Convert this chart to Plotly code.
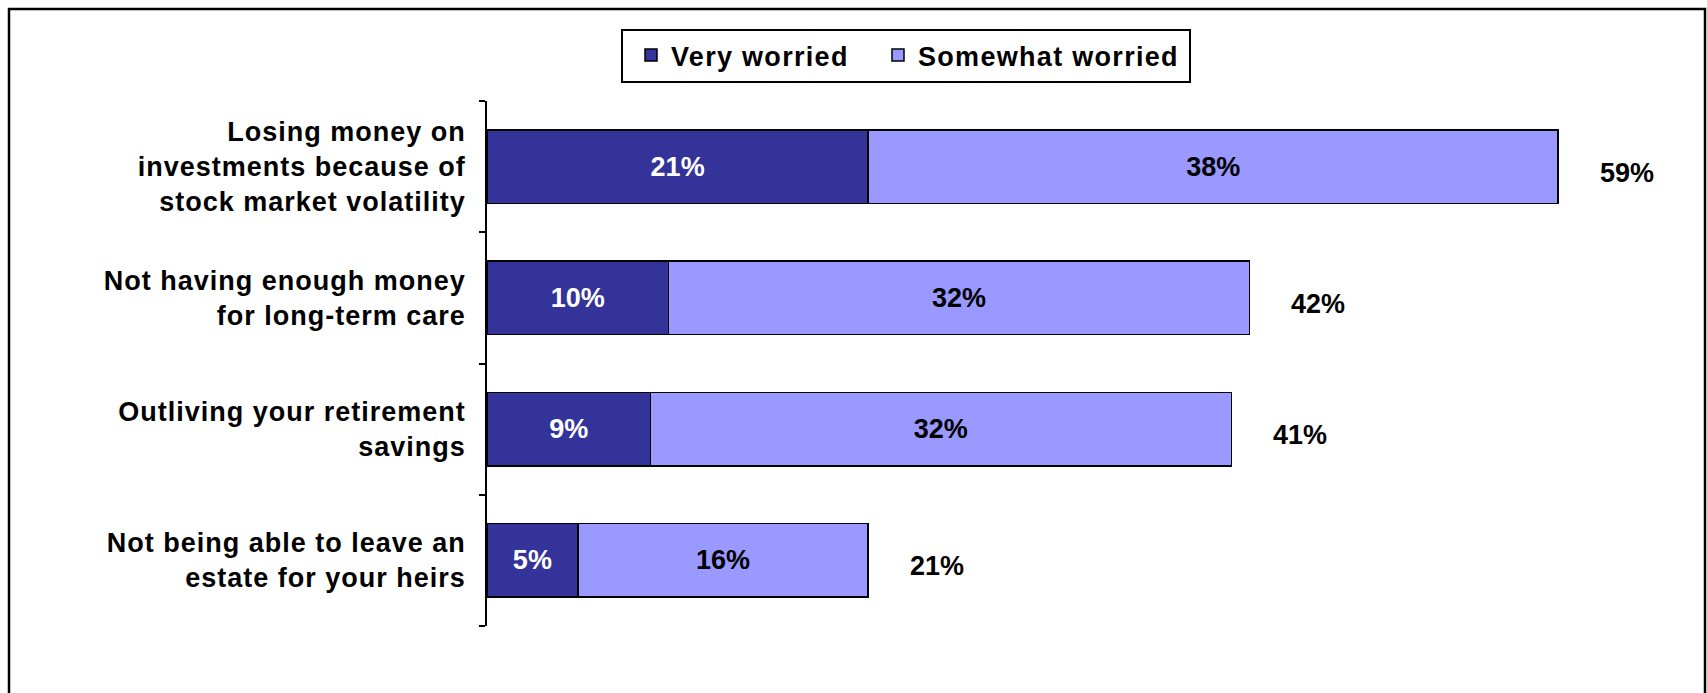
import plotly.graph_objects as go

# Survey results: share of respondents worried about each retirement risk
categories = [
    "Losing money on<br>investments because of<br>stock market volatility",
    "Not having enough money<br>for long-term care",
    "Outliving your retirement<br>savings",
    "Not being able to leave an<br>estate for your heirs",
]
series_names = ["Very worried", "Somewhat worried"]
very_worried = [21, 10, 9, 5]
somewhat_worried = [38, 32, 32, 16]
totals = [59, 42, 41, 21]

DARK = "#333399"
LIGHT = "#9999FF"
FONT = "Liberation Sans, Arial, sans-serif"
FS = 27

W, H = 1707, 693
ML, MR, MT, MB = 487, 40, 101, 67
X_MAX = 65
plot_w = W - ML - MR
plot_h = H - MT - MB


def px_to_paper_x(px):
    return (px - ML) / plot_w


def px_to_paper_y(py):
    return (H - MB - py) / plot_h


def spaced(text, px):
    """Apply extra letter spacing to every line of a label."""
    lines = text.split("<br>")
    return "<br>".join(
        f'<span style="letter-spacing:{px}px">{ln}</span>' for ln in lines
    )


fig = go.Figure()
for name, vals, fill, txt_color, legend_id in [
    (series_names[0], very_worried, DARK, "white", "legend"),
    (series_names[1], somewhat_worried, LIGHT, "black", "legend2"),
]:
    fig.add_trace(go.Bar(
        name=spaced(name, 1.3),
        y=categories, x=vals, orientation="h",
        marker=dict(color=fill, line=dict(color="black", width=1.5)),
        text=[f"{v}%" for v in vals],
        textposition="inside", insidetextanchor="middle", constraintext="none",
        textfont=dict(color=txt_color, size=FS, family=FONT, weight="bold"),
        hoverinfo="skip", legend=legend_id,
    ))

# Net totals to the right of each stacked bar
for cat, tot in zip(categories, totals):
    fig.add_annotation(
        x=tot, y=cat, text=f"{tot}%", showarrow=False,
        xanchor="left", xshift=40, yshift=-6,
        font=dict(color="black", size=FS, family=FONT, weight="bold"),
    )

# Outer frame around the chart
fig.add_shape(
    type="rect", xref="paper", yref="paper",
    x0=px_to_paper_x(9), x1=px_to_paper_x(1705),
    y0=px_to_paper_y(720), y1=px_to_paper_y(9),
    line=dict(color="black", width=2.5), fillcolor="rgba(0,0,0,0)",
    layer="below",
)
# Box around the legend entries
fig.add_shape(
    type="rect", xref="paper", yref="paper",
    x0=px_to_paper_x(622), x1=px_to_paper_x(1190),
    y0=px_to_paper_y(82), y1=px_to_paper_y(30),
    line=dict(color="black", width=2), fillcolor="white",
    layer="below",
)

legend_style = dict(
    orientation="h", xref="container", yref="container",
    y=1 - 31 / H, xanchor="left", yanchor="top",
    borderwidth=0, bgcolor="rgba(0,0,0,0)",
    font=dict(family=FONT, size=FS, color="black", weight="bold"),
)

fig.update_layout(
    width=W, height=H,
    margin=dict(l=ML, r=MR, t=MT, b=MB, autoexpand=False),
    barmode="stack", bargap=0.44,
    paper_bgcolor="white", plot_bgcolor="white",
    font=dict(family=FONT, size=FS, color="black", weight="bold"),
    showlegend=True,
    legend=dict(x=631 / W, **legend_style),
    legend2=dict(x=878 / W, **legend_style),
    xaxis=dict(range=[0, X_MAX], visible=False, fixedrange=True),
    yaxis=dict(
        autorange="reversed", showline=True, linecolor="black", linewidth=1.5,
        ticks="outside", tickson="boundaries", ticklen=6, tickcolor="black",
        tickwidth=1.5, showgrid=False, ticklabelstandoff=14,
        tickfont=dict(family=FONT, size=FS, color="black", weight="bold"),
        tickmode="array", tickvals=categories,
        ticktext=[spaced(c, 1) for c in categories],
        fixedrange=True,
    ),
)

fig.write_html("out.html")
